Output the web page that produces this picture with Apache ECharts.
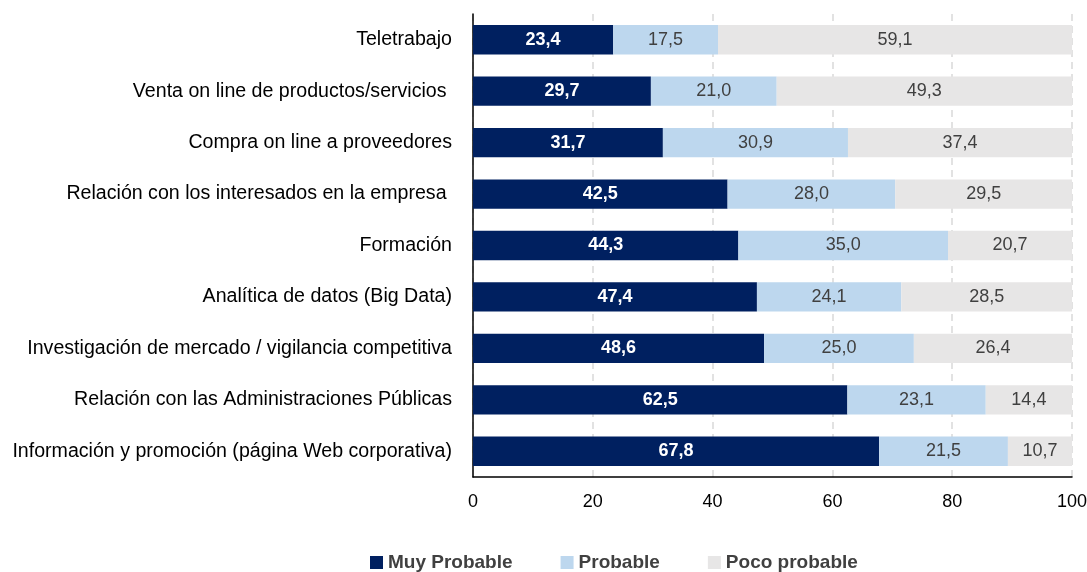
<!DOCTYPE html>
<html><head><meta charset="utf-8">
<script src="https://cdn.jsdelivr.net/npm/echarts@6/dist/echarts.min.js"></script>
<style>html,body{margin:0;padding:0;background:#fff}#c{width:1087px;height:572px}</style>
</head><body><div id="c"></div>
<script>
const categories = ["Teletrabajo","Venta on line de productos/servicios ","Compra on line a proveedores","Relación con los interesados en la empresa ","Formación","Analítica de datos (Big Data)","Investigación de mercado / vigilancia competitiva","Relación con las Administraciones Públicas","Información y promoción (página Web corporativa)"];
const muyProbable = [23.4,29.7,31.7,42.5,44.3,47.4,48.6,62.5,67.8];
const probable = [17.5,21.0,30.9,28.0,35.0,24.1,25.0,23.1,21.5];
const pocoProbable = [59.1,49.3,37.4,29.5,20.7,28.5,26.4,14.4,10.7];
const seriesNames = ["Muy Probable","Probable","Poco probable"];
const xTicks = [0,20,40,60,80,100];

const FONT = "'Liberation Sans Narrow','Arial Narrow','Liberation Sans',sans-serif";
const fmt = v => v.toFixed(1).replace('.', ',');
const chart = echarts.init(document.getElementById('c'), null, {renderer:'canvas'});
function mk(name, data, color, labelColor, bold){
  return {name, type:'bar', stack:'t', data, barWidth:'57%',
    itemStyle:{color},
    label:{show:true, position:'inside', formatter:p=>fmt(p.value), color:labelColor,
      fontFamily:FONT, fontSize:18, fontWeight: bold?'bold':'normal'}};
}
chart.setOption({
  animation:false,
  textStyle:{fontFamily:FONT},
  grid:{left:473, right:15, top:14, bottom:95, containLabel:false, outerBoundsMode:'none'},
  legend:{top:548, left:365, itemWidth:13, itemHeight:13, itemGap:48, icon:'rect',
    textStyle:{fontFamily:FONT, fontSize:19, fontWeight:'bold', color:'#404040'}},
  xAxis:{type:'value', min:xTicks[0], max:xTicks[xTicks.length-1], interval:20,
    axisLine:{show:true, lineStyle:{color:'#000', width:1.5}},
    axisTick:{show:false},
    splitLine:{show:true, lineStyle:{color:'#d9d9d9', type:[7,5], width:1.5}},
    axisLabel:{color:'#000', fontFamily:FONT, fontSize:18, margin:16}},
  yAxis:{type:'category', data:categories, inverse:true,
    axisLine:{show:true, lineStyle:{color:'#000', width:1.5}},
    axisTick:{show:false},
    axisLabel:{color:'#000', fontFamily:FONT, fontSize:19.6, margin:21}},
  series:[
    mk(seriesNames[0], muyProbable, '#002060', '#fff', true),
    mk(seriesNames[1], probable, '#bdd7ee', '#404040', false),
    mk(seriesNames[2], pocoProbable, '#e7e6e6', '#404040', false)
  ]
});
</script></body></html>
